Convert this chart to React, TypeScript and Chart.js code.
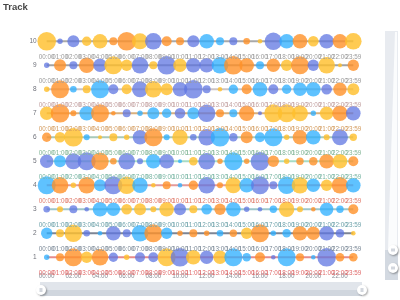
import { useEffect, useRef } from "react";
import { Chart, registerables } from "chart.js";
Chart.register(...registerables);

const timeLabels = ["00:00","01:00","02:00","03:00","04:00","05:00","06:00","07:00","08:00","09:00","10:00","11:00","12:00","13:00","14:00","15:00","16:00","17:00","18:00","19:00","20:00","21:00","22:00","23:59"];
const rowNames = [1, 2, 3, 4, 5, 6, 7, 8, 9, 10];
const xTickIdx = [0, 2, 4, 6, 8, 10, 12, 14, 16, 18, 20, 22];

const sizes1 = [2.7,4,9,5.7,8.3,4.7,2.7,5,5,9,9.3,7.3,6.7,6.7,9,4.3,5,2.3,9,4,2.3,9.3,4.3,4.3];
const sizes2 = [5.7,4,8.7,3.3,2.3,7.3,4,8.3,9,5.7,2.7,4,2.7,3.3,3.7,5.7,9,2.7,4.3,7.3,6.7,7.3,4.3,2.3];
const sizes3 = [3.3,3,4,2.3,7.3,6.7,5.3,6,3,7.3,6,4,5.3,5.7,7.3,2.7,2.3,3.7,7.7,3,2.3,6.7,3.7,5];
const sizes4 = [9,8.3,2.7,8.3,6,9,8.7,7.7,2.3,4,2.3,4.7,8.3,3,8,7.3,9,4,8.7,8.3,6.7,5.7,8.3,7.3];
const sizes5 = [6.7,6,8,9,8.7,3.3,8.3,3,7.3,7.3,2,4.3,8.3,2.7,9,2.7,9.3,5.7,2.7,3.7,4.3,7.3,7.3,5];
const sizes6 = [4.7,5.3,9.3,3,2,4,2.7,7.3,9,3,7.7,3.3,8.3,9.3,4.3,6,5,9,2.7,7.3,7.3,3,8,3.7];
const sizes7 = [6.7,9.3,3,7.3,9,2.3,4,2.7,6,4.7,5.3,6,8.7,4,4,7.7,2,9,9,8,2.7,6.7,7.7,7.3];
const sizes8 = [2.7,9,3.3,4,9,5,5,8,8.3,6,7.3,9.3,4,2.3,4.7,5,7.3,5,4.7,6.7,7.3,5.3,6.7,6];
const sizes9 = [2.7,6,4,7.7,6.7,9,5.7,8.3,4,9.3,6.7,7.3,7.3,8.3,9.3,7.3,4,6.7,5.7,9,5.7,8.3,2,5.7];
const sizes10 = [9.3,2.7,6,4.7,7.3,4,9.3,8,8.3,5,4,6,7.3,4,4,3.3,2.3,8.7,7.3,7.3,5.3,7.3,7.3,8.3];

// Y = yellow, O = orange, B = blue, S = sky
const kinds1 = "S O O Y O B Y B B Y B Y B Y S S O B S O S B O O".split(" ");
const kinds2 = "S Y Y B S B B S O S O O O S O Y O S S O O B B Y".split(" ");
const kinds3 = "B Y B B S S Y Y Y Y B Y S O S B B S Y Y O S S O".split(" ");
const kinds4 = "S O Y O S B Y S Y O S O B O Y S B B S Y S Y O S".split(" ");
const kinds5 = "B S B B O O B B S B S Y B O S O B O Y O O O Y O".split(" ");
const kinds6 = "O Y Y S Y Y Y B O S Y B B S B O S S Y O S Y B Y".split(" ");
const kinds7 = "Y O O S O O B S S S B S B O S O B Y Y Y S Y O B".split(" ");
const kinds8 = "Y O S Y S B Y B Y Y B B B Y S O S B S S S B O Y".split(" ");
const kinds9 = "B O B O B Y Y B Y B Y B B S O O S O Y O B Y Y O".split(" ");
const kinds10 = "Y B B Y Y O O Y B O O B S S B O Y B S O Y B O Y".split(" ");

const allSizes = [sizes1, sizes2, sizes3, sizes4, sizes5, sizes6, sizes7, sizes8, sizes9, sizes10];
const allKinds = [kinds1, kinds2, kinds3, kinds4, kinds5, kinds6, kinds7, kinds8, kinds9, kinds10];

const lineColors = ["#e58b8b", "#7d8594", "#9ec6cb", "#e49a9a", "#a6dcc6", "#a9c9b9", "#d9b07e", "#cbc4c4", "#a3a3a3", "#a9a9a9"];
const labelColors = ["#e06a6a", "#7a8896", "#6fa3ab", "#e07a6a", "#78b5a3", "#82b596", "#d39a5c", "#c2a0a0", "#9a9a9a", "#9a9a9a"];
const kindColors: Record<string, string> = {
  Y: "rgba(255,192,45,0.82)",
  O: "rgba(255,145,40,0.8)",
  B: "rgba(95,118,225,0.75)",
  S: "rgba(45,175,255,0.76)",
};

const FONT = '"Liberation Sans", Arial, sans-serif';

const labelPlugin = {
  id: "rowLabels",
  afterDatasetsDraw(chart: any) {
    const ctx = chart.ctx;
    ctx.save();
    ctx.font = `6.3px ${FONT}`;
    ctx.textAlign = "center";
    ctx.textBaseline = "middle";
    chart.data.datasets.forEach((_ds: any, di: number) => {
      const meta = chart.getDatasetMeta(di);
      ctx.fillStyle = labelColors[di];
      meta.data.forEach((el: any, i: number) => {
        ctx.fillText(timeLabels[i], el.x, el.y + 16);
      });
    });
    ctx.restore();
  },
};

function handle(ctx: CanvasRenderingContext2D, x: number, y: number, vertical: boolean) {
  ctx.save();
  ctx.shadowColor = "rgba(0,0,0,0.35)";
  ctx.shadowBlur = 2;
  ctx.shadowOffsetX = 1;
  ctx.shadowOffsetY = 1;
  ctx.beginPath();
  ctx.arc(x, y, 5, 0, Math.PI * 2);
  ctx.fillStyle = "#ffffff";
  ctx.fill();
  ctx.restore();
  ctx.save();
  ctx.strokeStyle = "#8f9bab";
  ctx.lineWidth = 0.8;
  ctx.beginPath();
  if (vertical) {
    ctx.moveTo(x - 1, y - 1.5); ctx.lineTo(x - 1, y + 1.5);
    ctx.moveTo(x + 1, y - 1.5); ctx.lineTo(x + 1, y + 1.5);
  } else {
    ctx.moveTo(x - 1.5, y - 1); ctx.lineTo(x + 1.5, y - 1);
    ctx.moveTo(x - 1.5, y + 1); ctx.lineTo(x + 1.5, y + 1);
  }
  ctx.stroke();
  ctx.restore();
}

const decoPlugin = {
  id: "deco",
  afterDraw(chart: any) {
    const ctx: CanvasRenderingContext2D = chart.ctx;
    ctx.save();
    // title
    ctx.font = `bold 9.5px ${FONT}`;
    ctx.fillStyle = "#464646";
    ctx.textAlign = "left";
    ctx.textBaseline = "middle";
    ctx.fillText("Track", 3, 7);
    // bottom slider
    ctx.fillStyle = "#e1e5eb";
    ctx.fillRect(40, 282, 322, 14);
    ctx.fillStyle = "#d0d6de";
    ctx.fillRect(40, 290, 322, 6);
    // right slider
    ctx.fillStyle = "#e8ebf0";
    ctx.fillRect(385, 31, 13, 249);
    ctx.fillStyle = "#fbfcfd";
    ctx.beginPath();
    ctx.moveTo(395, 32);
    ctx.lineTo(397, 32);
    ctx.lineTo(397, 250);
    ctx.lineTo(388, 250);
    ctx.closePath();
    ctx.fill();
    ctx.fillStyle = "#d3d9e1";
    ctx.fillRect(385, 250, 13, 30);
    ctx.restore();
    handle(ctx, 41, 290, false);
    handle(ctx, 362, 290, false);
    handle(ctx, 393, 250, true);
    handle(ctx, 393, 268, true);
  },
};

export default function App() {
  const ref = useRef<HTMLCanvasElement>(null);
  useEffect(() => {
    document.body.style.margin = "0";
    const datasets = rowNames.map((row, ri) => ({
      data: allSizes[ri].map((_s, i) => ({ x: i, y: row })),
      borderColor: lineColors[ri],
      borderWidth: 2,
      pointRadius: allSizes[ri],
      pointHoverRadius: allSizes[ri],
      pointBackgroundColor: allKinds[ri].map((k) => kindColors[k]),
      pointBorderWidth: 0,
      pointBorderColor: "rgba(0,0,0,0)",
      clip: false as any,
      tension: 0,
    }));
    const chart = new Chart(ref.current!, {
      type: "line",
      data: { datasets },
      plugins: [labelPlugin, decoPlugin],
      options: {
        responsive: false,
        animation: false,
        events: [],
        layout: { padding: { left: 0, right: 46.7, top: 29.3, bottom: 18.7 } },
        plugins: { legend: { display: false }, tooltip: { enabled: false }, title: { display: false } },
        scales: {
          x: {
            type: "linear",
            min: 0,
            max: 23,
            grid: { display: false, drawTicks: false },
            border: { display: false },
            afterBuildTicks: (s: any) => { s.ticks = xTickIdx.map((v) => ({ value: v })); },
            afterFit: (s: any) => { s.height = 12; },
            ticks: {
              autoSkip: false,
              maxRotation: 0,
              padding: 3,
              color: "#8a8d96",
              font: { size: 6.3, family: FONT },
              callback: (v: any) => timeLabels[v as number],
            },
          },
          y: {
            type: "linear",
            min: 0.5,
            max: 10.5,
            grid: { display: false, drawTicks: false },
            border: { display: false },
            afterBuildTicks: (s: any) => { s.ticks = rowNames.map((v) => ({ value: v })); },
            afterFit: (s: any) => { s.width = 46.7; },
            ticks: {
              autoSkip: false,
              padding: 10,
              color: "#6e7079",
              font: { size: 6.5, family: FONT },
              callback: (v: any) => String(v),
            },
          },
        },
      },
    });
    return () => chart.destroy();
  }, []);
  return <canvas ref={ref} width={400} height={300} style={{ display: "block", width: 400, height: 300 }} />;
}
